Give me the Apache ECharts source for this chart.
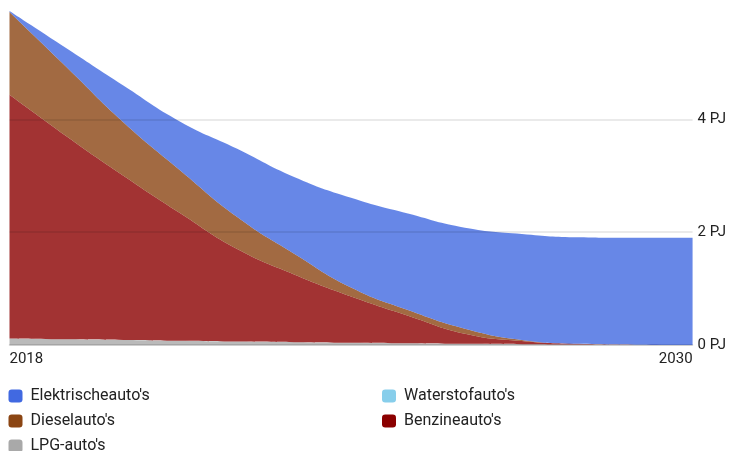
<!DOCTYPE html>
<html>
<head>
<meta charset="utf-8">
<script src="https://cdn.jsdelivr.net/npm/echarts@6/dist/echarts.min.js"></script>
<style>
  html, body { margin: 0; padding: 0; background: #fff; }
  #chart { width: 729px; height: 451px; }
</style>
</head>
<body>
<div id="chart"></div>
<script>
// Energy use per vehicle type (PJ), 2018-2030
const years = ['2018','2019','2020','2021','2022','2023','2024','2025','2026','2027','2028','2029','2030'];

const lpg        = [0.115, 0.10, 0.09, 0.075, 0.06, 0.05, 0.04, 0.03, 0.02, 0.015, 0.01, 0.005, 0];
const benzine    = [4.32, 3.60, 2.91, 2.26, 1.64, 1.20, 0.82, 0.49, 0.18, 0.055, 0.01, 0, 0];
const diesel     = [1.47, 1.23, 0.95, 0.76, 0.57, 0.37, 0.16, 0.10, 0.09, 0.02, 0, 0, 0];
const waterstof  = [0, 0, 0, 0, 0, 0, 0, 0, 0, 0, 0, 0, 0];
const elektrisch = [0.015, 0.33, 0.65, 0.865, 1.21, 1.36, 1.59, 1.71, 1.79, 1.88, 1.89, 1.895, 1.90];

const yTicks = [0, 2, 4];

const names = {
  ev: "Elektrischeauto's",
  h2: "Waterstofauto's",
  diesel: "Dieselauto's",
  benzine: "Benzineauto's",
  lpg: "LPG-auto's"
};

const FONT = 'Roboto, "Liberation Sans", sans-serif';

function area(name, data, color) {
  return {
    name: name,
    type: 'line',
    stack: 'total',
    data: data,
    smooth: 0.5,
    showSymbol: false,
    color: color,
    lineStyle: { width: 0 },
    areaStyle: { color: color, opacity: 0.8 },
    emphasis: { disabled: true }
  };
}

function legendBlock(left, items) {
  return {
    left: left, top: 388, height: 90, width: 300,
    orient: 'vertical', padding: 0,
    icon: 'roundRect', itemWidth: 14, itemHeight: 13, itemGap: 9,
    textStyle: { color: '#222', fontSize: 16, fontFamily: FONT, padding: [0, 0, 0, 3] },
    data: items,
    selectedMode: false
  };
}

const chart = echarts.init(document.getElementById('chart'), null, { renderer: 'canvas' });

chart.setOption({
  animation: false,
  textStyle: { fontFamily: FONT },
  grid: { left: 9.5, right: 34, top: 6.6, bottom: 106, containLabel: false },
  xAxis: {
    type: 'category',
    data: years,
    boundaryGap: false,
    axisLine: { show: true, lineStyle: { color: '#d9d9d9', width: 1.5 } },
    axisTick: { show: false },
    splitLine: { show: false },
    axisLabel: {
      interval: years.length - 2,
      color: '#222',
      fontSize: 15,
      fontFamily: FONT,
      margin: 7,
      alignMinLabel: 'left',
      alignMaxLabel: 'right'
    }
  },
  yAxis: {
    type: 'value',
    position: 'right',
    min: 0,
    max: 6,
    interval: 2,
    z: 10,
    axisLine: { show: false },
    axisTick: { show: false },
    splitLine: {
      show: true,
      showMaxLine: false,
      lineStyle: { color: 'rgba(0,0,0,0.11)', width: 1.5 }
    },
    axisLabel: {
      showMaxLabel: false,
      color: '#222',
      fontSize: 15,
      fontFamily: FONT,
      margin: 5,
      formatter: function (v) { return yTicks.indexOf(v) >= 0 ? v + ' PJ' : ''; }
    }
  },
  legend: [
    legendBlock(8.5, [names.ev, names.diesel, names.lpg]),
    legendBlock(382, [names.h2, names.benzine])
  ],
  series: [
    area(names.lpg, lpg, '#A9A9A9'),
    area(names.benzine, benzine, '#8B0000'),
    area(names.diesel, diesel, '#8B4513'),
    area(names.h2, waterstof, '#87CEEB'),
    area(names.ev, elektrisch, '#4169E1')
  ]
});
</script>
</body>
</html>
